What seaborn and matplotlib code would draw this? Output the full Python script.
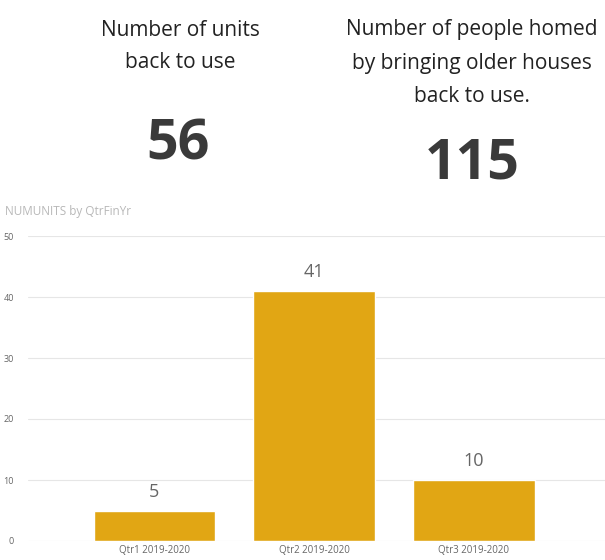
import pandas as pd
import matplotlib.pyplot as plt
import seaborn as sns

quarters = ['Qtr1 2019-2020', 'Qtr2 2019-2020', 'Qtr3 2019-2020']
num_units = [5, 41, 10]
units_back_to_use = 56
people_homed = 115

df = pd.DataFrame({'QtrFinYr': quarters, 'NUMUNITS': num_units})

sns.set_theme(style="white")
plt.rcParams['font.family'] = ['Open Sans', 'DejaVu Sans']

fig = plt.figure(figsize=(6.05, 5.6), dpi=100)
fig.patch.set_facecolor('white')

# Card headlines
fig.text(180 / 605, 1 - 30 / 560, 'Number of units', ha='center', va='center', fontsize=15, color='#222222')
fig.text(180 / 605, 1 - 63 / 560, 'back to use', ha='center', va='center', fontsize=15, color='#222222')
fig.text(178 / 605, 1 - 145 / 560, str(units_back_to_use), ha='center', va='center',
         fontsize=40, fontweight='bold', color='#3a3a3a')

for i, line in enumerate(['Number of people homed', 'by bringing older houses', 'back to use.']):
    fig.text(472 / 605, 1 - (30 + 33 * i) / 560, line, ha='center', va='center', fontsize=15, color='#222222')
fig.text(472 / 605, 1 - 164 / 560, str(people_homed), ha='center', va='center',
         fontsize=40, fontweight='bold', color='#3a3a3a')

# Bar chart
ax = fig.add_axes([28 / 605, 1 - 541 / 560, 1 - 28 / 605, (541 - 236) / 560])
sns.barplot(data=df, x='QtrFinYr', y='NUMUNITS', ax=ax, color='#E1A614',
            width=0.76, saturation=1)
ax.set_xlim(-0.79, 2.82)
ax.set_ylim(0, 50)
ax.set_yticks([0, 10, 20, 30, 40, 50])
ax.yaxis.grid(True, color='#e6e6e6', linewidth=0.8)
ax.set_axisbelow(True)
for s in ax.spines.values():
    s.set_visible(False)
ax.set_xlabel('')
ax.set_ylabel('')
ax.tick_params(axis='y', labelsize=6.5, colors='#666666', length=0, pad=10)
ax.tick_params(axis='x', labelsize=7, colors='#666666', length=0, pad=3)

for container in ax.containers:
    ax.bar_label(container, padding=7, fontsize=13, color='#666666')

fig.text(5 / 605, 1 - 212 / 560, 'NUMUNITS by QtrFinYr', ha='left', va='center',
         fontsize=8.5, color='#b8b8b8')

plt.savefig('out.png', dpi=100)
plt.close()
